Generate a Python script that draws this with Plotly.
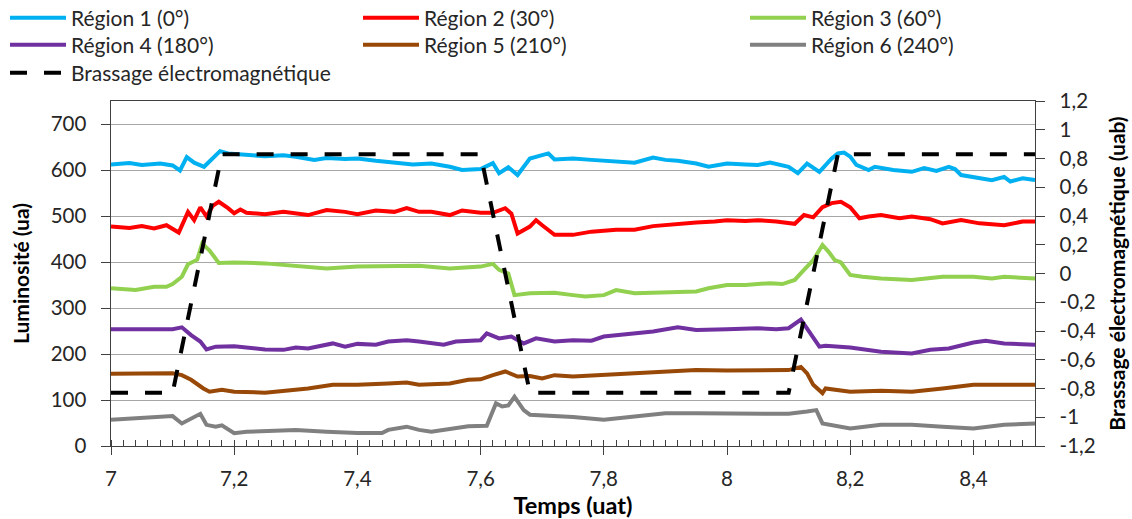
import plotly.graph_objects as go

# ---- data ----
t1 = [7.00,7.03,7.05,7.08,7.10,7.112,7.123,7.135,7.151,7.165,7.177,7.19,7.22,7.25,7.28,7.30,7.33,7.35,7.38,7.40,7.43,7.46,7.49,7.52,7.55,7.57,7.60,7.62,7.63,7.645,7.66,7.68,7.70,7.71,7.72,7.75,7.78,7.80,7.83,7.85,7.88,7.90,7.92,7.95,7.97,8.00,8.03,8.05,8.07,8.10,8.115,8.13,8.15,8.17,8.18,8.19,8.20,8.21,8.23,8.24,8.27,8.30,8.32,8.34,8.36,8.37,8.38,8.40,8.43,8.45,8.46,8.48,8.50]
v1 = [612,615,611,614,610,599,628,616,607,625,641,636,633,630,632,629,622,626,624,625,620,616,612,614,607,600,602,615,593,606,589,625,633,636,623,625,622,620,618,616,627,622,620,614,607,614,612,611,616,607,593,614,596,625,636,638,629,611,600,607,600,596,604,598,607,602,589,585,578,585,575,582,578]

t2 = [7.00,7.03,7.05,7.07,7.09,7.11,7.125,7.135,7.145,7.155,7.165,7.175,7.19,7.20,7.21,7.22,7.25,7.28,7.32,7.35,7.38,7.40,7.43,7.46,7.48,7.50,7.52,7.55,7.57,7.60,7.62,7.64,7.65,7.66,7.68,7.69,7.70,7.72,7.75,7.78,7.82,7.85,7.88,7.92,7.95,7.98,8.00,8.03,8.05,8.08,8.11,8.125,8.14,8.155,8.17,8.185,8.20,8.215,8.23,8.25,8.28,8.30,8.33,8.35,8.38,8.41,8.45,8.48,8.50]
v2 = [477,474,478,473,480,464,509,491,519,499,522,531,517,506,514,507,504,509,502,513,509,504,512,509,517,509,509,502,512,507,507,517,505,462,477,491,480,459,459,466,470,470,478,483,486,488,491,489,491,488,483,502,497,519,528,531,519,495,499,502,495,499,493,484,491,484,480,488,488]

t3 = [7.00,7.04,7.07,7.09,7.10,7.115,7.125,7.14,7.148,7.16,7.175,7.20,7.25,7.30,7.35,7.40,7.45,7.50,7.55,7.60,7.62,7.63,7.645,7.655,7.68,7.72,7.75,7.77,7.80,7.82,7.85,7.88,7.92,7.95,7.97,8.00,8.03,8.07,8.09,8.11,8.125,8.14,8.15,8.155,8.165,8.175,8.185,8.19,8.20,8.22,8.25,8.30,8.35,8.40,8.43,8.45,8.50]
v3 = [343,339,346,346,352,368,395,405,440,425,398,399,397,391,386,390,391,392,386,390,396,383,375,328,332,333,328,325,328,339,332,333,336,336,343,350,350,354,352,361,383,404,426,437,422,404,399,390,372,368,364,361,368,368,364,368,364]

t4 = [7.00,7.05,7.10,7.115,7.13,7.145,7.155,7.17,7.20,7.25,7.28,7.30,7.32,7.36,7.38,7.40,7.43,7.45,7.48,7.50,7.54,7.56,7.60,7.61,7.63,7.65,7.67,7.69,7.72,7.75,7.78,7.80,7.85,7.88,7.92,7.95,8.00,8.05,8.08,8.10,8.12,8.13,8.15,8.16,8.20,8.25,8.30,8.33,8.36,8.40,8.42,8.45,8.50]
v4 = [254,253,254,258,241,227,210,216,217,210,209,214,212,223,216,222,220,227,230,227,220,227,230,245,234,238,223,234,227,230,229,238,245,249,258,252,254,256,254,256,275,255,216,218,214,205,201,209,212,225,229,223,220]

t5 = [7.00,7.05,7.10,7.115,7.13,7.15,7.16,7.18,7.20,7.25,7.28,7.32,7.36,7.40,7.45,7.48,7.50,7.55,7.58,7.60,7.62,7.64,7.66,7.68,7.70,7.72,7.75,7.80,7.85,7.90,7.95,8.00,8.05,8.10,8.12,8.13,8.14,8.155,8.16,8.20,8.25,8.30,8.35,8.40,8.45,8.50]
v5 = [157,157,158,154,144,125,118,122,118,116,120,125,133,133,136,138,133,136,144,145,154,162,151,152,147,154,151,154,158,162,165,164,164,165,172,158,133,115,125,118,120,118,125,133,133,133]

t6 = [7.00,7.05,7.10,7.115,7.13,7.145,7.155,7.17,7.18,7.20,7.22,7.25,7.30,7.35,7.40,7.44,7.45,7.48,7.50,7.52,7.55,7.58,7.61,7.625,7.635,7.645,7.655,7.67,7.68,7.72,7.75,7.80,7.85,7.90,7.95,8.00,8.05,8.10,8.13,8.145,8.155,8.18,8.20,8.25,8.30,8.35,8.40,8.45,8.50]
v6 = [57,60,65,49,60,70,46,42,45,28,31,33,35,31,28,28,35,42,35,31,38,43,44,93,86,88,107,78,68,65,63,57,65,71,71,71,70,70,75,78,49,42,38,46,46,42,38,46,49]

t_brassage = [7.00, 7.10, 7.18, 7.60, 7.68, 8.10, 8.18, 8.50]
v_brassage = [-0.83, -0.83, 0.83, 0.83, -0.83, -0.83, 0.83, 0.83]

names = ["Région 1 (0°)", "Région 2 (30°)", "Région 3 (60°)",
         "Région 4 (180°)", "Région 5 (210°)", "Région 6 (240°)"]
colors = ["#00B0F0", "#FF0000", "#92D050", "#7030A0", "#984807", "#808080"]
series_t = [t1, t2, t3, t4, t5, t6]
series_v = [v1, v2, v3, v4, v5, v6]
brassage_name = "Brassage électromagnétique"

right_tickvals = [-1.2, -1.0, -0.8, -0.6, -0.4, -0.2, 0, 0.2, 0.4, 0.6, 0.8, 1.0, 1.2]
right_labels = ["-1,2", "-1", "-0,8", "-0,6", "-0,4", "-0,2", "0", "0,2", "0,4", "0,6", "0,8", "1", "1,2"]

FONT = "Lato"
AX = "#404040"
TXT = "#262626"
W, H = 1132, 519
ML, MR, MT, MB = 111, 97, 101, 73
PW, PH = W - ML - MR, H - MT - MB
NB = "\u00a0"

# legend grid: one single-entry legend per cell (column x px, row centre y px)
col_x = [5, 358, 745]
row_y = [18, 45, 73]
legend_ids = ["legend", "legend2", "legend3", "legend4", "legend5", "legend6", "legend7"]
cells = [(0, 0), (1, 0), (2, 0), (0, 1), (1, 1), (2, 1), (0, 2)]

fig = go.Figure()
for i, (t, v, n, c) in enumerate(zip(series_t, series_v, names, colors)):
    fig.add_trace(go.Scatter(x=t, y=v, name=n, mode="lines",
                             line=dict(color=c, width=4), legend=legend_ids[i]))
fig.add_trace(go.Scatter(x=t_brassage, y=v_brassage, name=brassage_name, mode="lines",
                         line=dict(color="black", width=4, dash="17px,17px"),
                         yaxis="y2", legend=legend_ids[6]))

legends = {}
for lid, (ci, ri) in zip(legend_ids, cells):
    legends[lid] = dict(x=(col_x[ci] - ML) / PW, y=(H - MB - row_y[ri]) / PH,
                        xref="paper", yref="paper",
                        xanchor="left", yanchor="middle",
                        font=dict(family=FONT, size=21, color=TXT),
                        bgcolor="rgba(0,0,0,0)", itemwidth=56, orientation="v")

fig.update_layout(
    width=W, height=H,
    margin=dict(l=ML, r=MR, t=MT, b=MB, autoexpand=False),
    paper_bgcolor="white", plot_bgcolor="white",
    separators=", ",
    font=dict(family=FONT, size=20, color=TXT),
    showlegend=True,
    **legends,
    xaxis=dict(range=[7, 8.5], dtick=0.2, tick0=7, showgrid=False, zeroline=False,
               showline=True, linecolor=AX, linewidth=1, mirror=True,
               ticks="outside", ticklen=8, tickcolor=AX, ticklabelstandoff=6,
               minor=dict(dtick=0.02, ticks="inside", ticklen=6, tickcolor=AX, showgrid=False),
               tickfont=dict(family=FONT, size=20.5, color=TXT),
               title=dict(text="Temps (uat)", font=dict(family=FONT, size=23.5, weight="bold", color="black"))),
    yaxis=dict(range=[0, 750], dtick=100, tick0=0, showgrid=True, gridcolor="#A6A6A6", gridwidth=1,
               zeroline=False, showline=True, linecolor=AX, linewidth=1,
               ticks="outside", ticklen=9, tickcolor=AX, ticksuffix=NB + NB,
               tickfont=dict(family=FONT, size=20.5, color=TXT),
               title=dict(text="Luminosité (ua)", font=dict(family=FONT, size=21, weight="bold", color="black"))),
    yaxis2=dict(range=[-1.2, 1.2], overlaying="y", side="right", showgrid=False, zeroline=False,
                showline=True, linecolor=AX, linewidth=1,
                tickvals=right_tickvals, ticktext=[NB + NB + s for s in right_labels],
                ticks="outside", ticklen=9, tickcolor=AX,
                tickfont=dict(family=FONT, size=20.5, color=TXT),
                title=dict(text="Brassage électromagnétique (uab)", font=dict(family=FONT, size=21, weight="bold", color="black"))),
)

fig.write_html("out.html", config={"displayModeBar": False},
               post_script="document.body.style.margin='0';")
